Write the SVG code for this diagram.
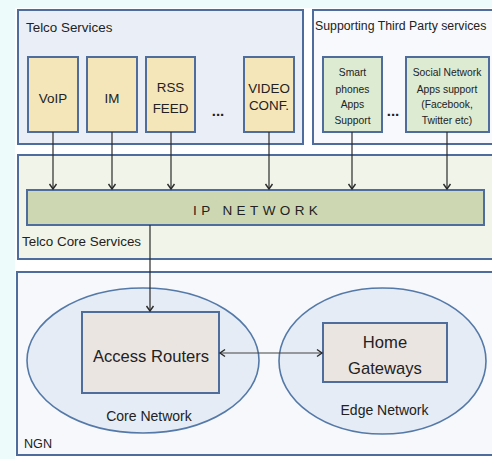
<svg xmlns="http://www.w3.org/2000/svg" width="492" height="459" viewBox="0 0 492 459">
<defs>
<style>
text{font-family:"Liberation Sans",Arial,sans-serif;fill:#222}
.box{stroke:#4e6d9c;stroke-width:2}
.svc{fill:#f5e6ba}
.grn{fill:#dcebd2}
.t13{font-size:13.4px;text-anchor:middle}
.t10{font-size:10.3px;text-anchor:middle}
.ttl{font-size:13.4px}
.big{font-size:16.6px;text-anchor:middle}
.lbl{font-size:14px;text-anchor:middle}
.conn line{stroke:#2a2a2a;stroke-width:1.2}
.ell{fill:#e5ecf5;stroke:#5479a8;stroke-width:1.6}
.rt{fill:#ebe5e2;stroke:#4e6d9c;stroke-width:2}
.dots{font-size:15px;font-weight:bold;text-anchor:middle}
</style>
<marker id="ah" markerUnits="userSpaceOnUse" markerWidth="12" markerHeight="12" refX="10" refY="6" orient="auto" viewBox="0 0 12 12">
<path d="M5,2.5 L10,6 L5,9.5" fill="none" stroke="#2a2a2a" stroke-width="1.4"/>
</marker>
</defs>
<rect x="0" y="0" width="492" height="459" fill="#eefbfb"/>
<rect x="15" y="8" width="477" height="451" fill="#ffffff"/>

<g id="telco-services">
<rect class="box" x="18" y="10" width="285" height="134" fill="#eaeff7"/>
<text class="ttl" x="26" y="32">Telco Services</text>
</g>
<g id="third-party">
<rect class="box" x="313" y="10" width="190" height="134" fill="#f7f9fc"/>
<text x="315" y="30" font-size="12.3">Supporting Third Party services</text>
</g>
<g id="voip">
<rect class="box svc" x="28" y="57" width="50" height="75"/>
<text class="t13" x="53" y="103">VoIP</text>
</g>
<g id="im">
<rect class="box svc" x="87" y="57" width="50" height="75"/>
<text class="t13" x="112" y="103">IM</text>
</g>
<g id="rss">
<rect class="box svc" x="146" y="57" width="49" height="75"/>
<text class="t13" x="170.5" y="92">RSS</text>
<text class="t13" x="170.5" y="113">FEED</text>
</g>
<text class="dots" x="218" y="116">...</text>
<g id="video">
<rect class="box svc" x="244" y="57" width="50" height="75"/>
<text class="t13" x="269" y="93">VIDEO</text>
<text class="t13" x="269" y="110">CONF.</text>
</g>
<g id="smartphones">
<rect class="box grn" x="323" y="57" width="59" height="75"/>
<text class="t10" x="352.5" y="76">Smart</text>
<text class="t10" x="352.5" y="93">phones</text>
<text class="t10" x="352.5" y="108">Apps</text>
<text class="t10" x="352.5" y="124">Support</text>
</g>
<text class="dots" x="393" y="116">...</text>
<g id="social">
<rect class="box grn" x="406" y="57" width="83" height="75"/>
<text class="t10" x="447" y="76">Social Network</text>
<text class="t10" x="447" y="93">Apps support</text>
<text class="t10" x="447" y="108">(Facebook,</text>
<text class="t10" x="447" y="124">Twitter etc)</text>
</g>

<g id="core-services">
<rect class="box" x="18" y="155" width="490" height="104" fill="#f1f4e8"/>
<text class="ttl" x="22" y="246">Telco Core Services</text>
</g>
<g id="ip-network">
<rect class="box" x="27" y="190" width="457" height="35" fill="#cdd8b3"/>
<text x="193" y="215" font-size="13.5" letter-spacing="4.4">IP NETWORK</text>
</g>

<g id="ngn">
<rect class="box" x="17" y="272" width="490" height="183" fill="#f6f8fb"/>
<text x="24" y="448" font-size="12.6">NGN</text>
</g>
<g id="core-network">
<ellipse class="ell" cx="143" cy="360.5" rx="116" ry="72.5"/>
<text class="lbl" x="149" y="421">Core Network</text>
</g>
<g id="edge-network">
<ellipse class="ell" cx="382.5" cy="361" rx="103.5" ry="73"/>
<text class="lbl" x="384.5" y="415">Edge Network</text>
</g>
<g id="access-routers">
<rect class="rt" x="82" y="312" width="137" height="81"/>
<text class="big" x="151" y="362">Access Routers</text>
</g>
<g id="home-gateways">
<rect class="rt" x="323" y="323" width="124" height="59"/>
<text class="big" x="385" y="348">Home</text>
<text class="big" x="385" y="374">Gateways</text>
</g>

<g id="connectors" class="conn">
<line x1="53" y1="132" x2="53" y2="189" marker-end="url(#ah)"/>
<line x1="112" y1="132" x2="112" y2="189" marker-end="url(#ah)"/>
<line x1="171" y1="132" x2="171" y2="189" marker-end="url(#ah)"/>
<line x1="269" y1="132" x2="269" y2="189" marker-end="url(#ah)"/>
<line x1="352" y1="132" x2="352" y2="189" marker-end="url(#ah)"/>
<line x1="447" y1="132" x2="447" y2="189" marker-end="url(#ah)"/>
<line x1="150" y1="225" x2="150" y2="311" marker-end="url(#ah)"/>
<line x1="259" y1="353" x2="220" y2="353" marker-end="url(#ah)" style="stroke:#444"/>
<line x1="259" y1="353" x2="322" y2="353" marker-end="url(#ah)" style="stroke:#444"/>
</g>
</svg>
